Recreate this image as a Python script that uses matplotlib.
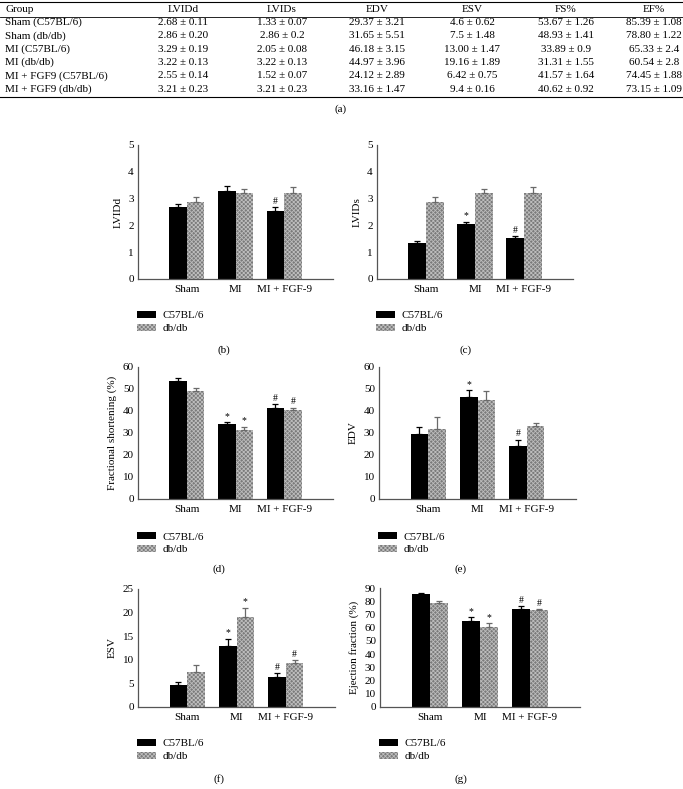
import matplotlib
matplotlib.use("Agg")
import matplotlib.pyplot as plt
import numpy as np

plt.rcParams['font.family'] = ['Liberation Serif', 'DejaVu Serif']
plt.rcParams['hatch.linewidth'] = 0.6

# ---------------- data ----------------
table_header = ["Group", "LVIDd", "LVIDs", "EDV", "ESV", "FS%", "EF%"]
table_groups = ["Sham (C57BL/6)", "Sham (db/db)", "MI (C57BL/6)", "MI (db/db)",
                "MI + FGF9 (C57BL/6)", "MI + FGF9 (db/db)"]
col_lvidd = ["2.68 ± 0.11", "2.86 ± 0.20", "3.29 ± 0.19", "3.22 ± 0.13", "2.55 ± 0.14", "3.21 ± 0.23"]
col_lvids = ["1.33 ± 0.07", "2.86 ± 0.2", "2.05 ± 0.08", "3.22 ± 0.13", "1.52 ± 0.07", "3.21 ± 0.23"]
col_edv = ["29.37 ± 3.21", "31.65 ± 5.51", "46.18 ± 3.15", "44.97 ± 3.96", "24.12 ± 2.89", "33.16 ± 1.47"]
col_esv = ["4.6 ± 0.62", "7.5 ± 1.48", "13.00 ± 1.47", "19.16 ± 1.89", "6.42 ± 0.75", "9.4 ± 0.16"]
col_fs = ["53.67 ± 1.26", "48.93 ± 1.41", "33.89 ± 0.9", "31.31 ± 1.55", "41.57 ± 1.64", "40.62 ± 0.92"]
col_ef = ["85.39 ± 1.08", "78.80 ± 1.22", "65.33 ± 2.4", "60.54 ± 2.8", "74.45 ± 1.88", "73.15 ± 1.09"]

categories = ["Sham", "MI", "MI + FGF-9"]
series = ["C57BL/6", "db/db"]

lvidd_c57 = [2.68, 3.29, 2.55]; lvidd_c57_err = [0.11, 0.19, 0.14]
lvidd_db = [2.86, 3.22, 3.21];  lvidd_db_err = [0.20, 0.13, 0.23]
lvids_c57 = [1.33, 2.05, 1.52]; lvids_c57_err = [0.07, 0.08, 0.07]
lvids_db = [2.86, 3.22, 3.21];  lvids_db_err = [0.20, 0.13, 0.23]
fs_c57 = [53.67, 33.89, 41.57]; fs_c57_err = [1.26, 0.9, 1.64]
fs_db = [48.93, 31.31, 40.62];  fs_db_err = [1.41, 1.55, 0.92]
edv_c57 = [29.37, 46.18, 24.12]; edv_c57_err = [3.21, 3.15, 2.89]
edv_db = [31.65, 44.97, 33.16];  edv_db_err = [5.51, 3.96, 1.47]
esv_c57 = [4.6, 13.00, 6.42];   esv_c57_err = [0.62, 1.47, 0.75]
esv_db = [7.5, 19.16, 9.4];     esv_db_err = [1.48, 1.89, 0.5]
ef_c57 = [85.39, 65.33, 74.45]; ef_c57_err = [1.08, 2.4, 1.88]
ef_db = [78.80, 60.54, 73.15];  ef_db_err = [1.22, 2.8, 1.09]

# significance marks per category
lvidd_c57_sig = ["", "", "#"]; lvidd_db_sig = ["", "", ""]
lvids_c57_sig = ["", "*", "#"]; lvids_db_sig = ["", "", ""]
fs_c57_sig = ["", "*", "#"];    fs_db_sig = ["", "*", "#"]
edv_c57_sig = ["", "*", "#"];   edv_db_sig = ["", "", ""]
esv_c57_sig = ["", "*", "#"];   esv_db_sig = ["", "*", "#"]
ef_c57_sig = ["", "*", "#"];    ef_db_sig = ["", "*", "#"]

# ---------------- figure ----------------
W, H = 683, 789
fig = plt.figure(figsize=(W / 100, H / 100), dpi=100)

def fx(x):
    return x / W

def fy(y):
    return 1 - y / H

FS = 8.0
TFS = 8.0

# ---- table (a) ----
col_x = [5, 183, 282, 377, 472, 566, 654]
header_y = 10
row_y0, row_dy = 22.5, 13.3
fig.add_artist(plt.Line2D([fx(0), fx(683)], [fy(2), fy(2)], color='black', lw=0.8))
fig.add_artist(plt.Line2D([fx(0), fx(683)], [fy(16.5), fy(16.5)], color='black', lw=0.6))
fig.add_artist(plt.Line2D([fx(0), fx(683)], [fy(96.5), fy(96.5)], color='black', lw=0.8))
for j, h in enumerate(table_header):
    fig.text(fx(col_x[j]), fy(header_y), h, fontsize=TFS, ha='left' if j == 0 else 'center', va='center')
cols = [table_groups, col_lvidd, col_lvids, col_edv, col_esv, col_fs, col_ef]
for j, col in enumerate(cols):
    for i, s in enumerate(col):
        fig.text(fx(col_x[j]), fy(row_y0 + i * row_dy), s, fontsize=TFS,
                 ha='left' if j == 0 else 'center', va='center')
fig.text(fx(341), fy(109), "(a)", fontsize=TFS, ha='center', va='center')

# ---- bar panels ----
panels = [
    dict(rect=(138, 145, 333, 279), ylim=(0, 5), step=1, ylabel="LVIDd",
         c57=lvidd_c57, c57e=lvidd_c57_err, db=lvidd_db, dbe=lvidd_db_err,
         c57s=lvidd_c57_sig, dbs=lvidd_db_sig, leg_y=316, lab="(b)", lab_x=224, lab_y=350),
    dict(rect=(377, 145, 573, 279), ylim=(0, 5), step=1, ylabel="LVIDs",
         c57=lvids_c57, c57e=lvids_c57_err, db=lvids_db, dbe=lvids_db_err,
         c57s=lvids_c57_sig, dbs=lvids_db_sig, leg_y=316, lab="(c)", lab_x=466, lab_y=350),
    dict(rect=(138, 367, 333, 499), ylim=(0, 60), step=10, ylabel="Fractional shortening (%)",
         c57=fs_c57, c57e=fs_c57_err, db=fs_db, dbe=fs_db_err,
         c57s=fs_c57_sig, dbs=fs_db_sig, leg_y=537, lab="(d)", lab_x=219, lab_y=569),
    dict(rect=(379, 367, 576, 499), ylim=(0, 60), step=10, ylabel="EDV",
         c57=edv_c57, c57e=edv_c57_err, db=edv_db, dbe=edv_db_err,
         c57s=edv_c57_sig, dbs=edv_db_sig, leg_y=537, lab="(e)", lab_x=461, lab_y=569),
    dict(rect=(138, 589, 335, 707), ylim=(0, 25), step=5, ylabel="ESV",
         c57=esv_c57, c57e=esv_c57_err, db=esv_db, dbe=esv_db_err,
         c57s=esv_c57_sig, dbs=esv_db_sig, leg_y=744, lab="(f)", lab_x=219, lab_y=779),
    dict(rect=(380, 588, 580, 707), ylim=(0, 90), step=10, ylabel="Ejection fraction (%)",
         c57=ef_c57, c57e=ef_c57_err, db=ef_db, dbe=ef_db_err,
         c57s=ef_c57_sig, dbs=ef_db_sig, leg_y=744, lab="(g)", lab_x=461, lab_y=779),
]

x = np.arange(len(categories))
bw = 0.36
for p in panels:
    l, t, r, b = p['rect']
    ax = fig.add_axes([fx(l), fy(b), (r - l) / W, (b - t) / H])
    ymax = p['ylim'][1]
    bars1 = ax.bar(x - bw / 2, p['c57'], bw, color='black', label=series[0], zorder=2)
    bars2 = ax.bar(x + bw / 2, p['db'], bw, facecolor='#7a7a7a', edgecolor='#bdbdbd',
                   hatch='xxxxxxxx', linewidth=0, label=series[1], zorder=2)
    ax.errorbar(x - bw / 2, p['c57'], yerr=[np.zeros(3), p['c57e']], fmt='none',
                ecolor='black', elinewidth=0.9, capsize=2.2, capthick=0.9, zorder=3)
    ax.errorbar(x + bw / 2, p['db'], yerr=[np.zeros(3), p['dbe']], fmt='none',
                ecolor='#6a6a6a', elinewidth=0.9, capsize=2.2, capthick=0.9, zorder=3)
    off = ymax * 0.01
    for i in range(3):
        if p['c57s'][i]:
            ax.text(x[i] - bw / 2, p['c57'][i] + p['c57e'][i] + off, p['c57s'][i],
                    ha='center', va='bottom', fontsize=7)
        if p['dbs'][i]:
            ax.text(x[i] + bw / 2, p['db'][i] + p['dbe'][i] + off, p['dbs'][i],
                    ha='center', va='bottom', fontsize=7)
    ax.set_xlim(-1, 3)
    ax.set_ylim(*p['ylim'])
    ax.set_yticks(np.arange(0, ymax + 0.001, p['step']))
    ax.set_xticks(x)
    ax.set_xticklabels(categories)
    ax.tick_params(axis='both', length=0, labelsize=FS, pad=3)
    ax.tick_params(axis='x', pad=4)
    for s in ['top', 'right']:
        ax.spines[s].set_visible(False)
    for s in ['left', 'bottom']:
        ax.spines[s].set_color('#555555')
        ax.spines[s].set_linewidth(0.9)
    ax.set_ylabel(p['ylabel'], fontsize=FS, labelpad=4)
    ax.legend(handles=[bars1, bars2], loc='upper left',
              bbox_to_anchor=(fx(l - 3), fy(p['leg_y'] - 7)), bbox_transform=fig.transFigure,
              frameon=False, fontsize=FS, handlelength=1.7, handleheight=0.55,
              handletextpad=0.6, labelspacing=0.3, borderaxespad=0, borderpad=0.2)
    fig.text(fx(p['lab_x']), fy(p['lab_y']), p['lab'], fontsize=FS, ha='center', va='center')

fig.savefig("out.png", dpi=100)
